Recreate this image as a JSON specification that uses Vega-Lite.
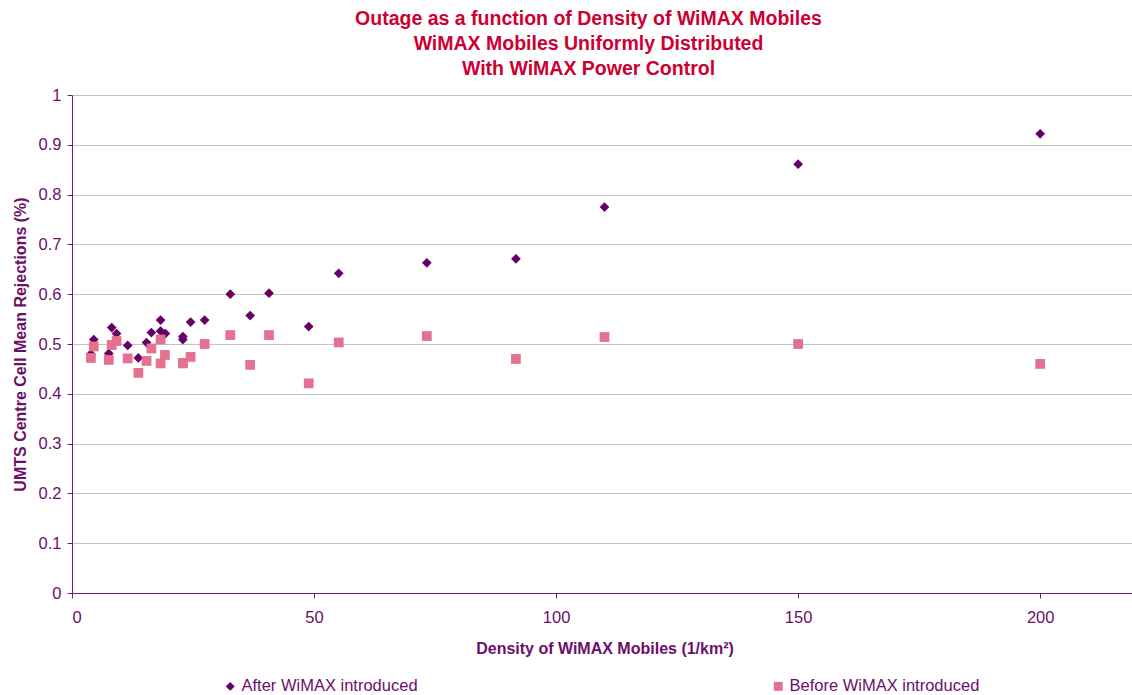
{
  "$schema": "https://vega.github.io/schema/vega-lite/v6.json",
  "autosize": {"type": "none"},
  "padding": {"left": 72, "top": 95, "right": 0, "bottom": 102},
  "width": 1065,
  "height": 498,
  "background": "white",
  "title": {
    "text": ["Outage as a function of Density of WiMAX Mobiles", "WiMAX Mobiles Uniformly Distributed", "With WiMAX Power Control"],
    "font": "Liberation Sans",
    "fontSize": 19.5,
    "fontWeight": "bold",
    "color": "#CC0033",
    "lineHeight": 25,
    "anchor": "middle",
    "frame": "group",
    "dx": -16,
    "offset": 8
  },
  "config": {
    "view": {"stroke": null},
    "font": "Liberation Sans"
  },
  "data": {
    "values": [
      {"density": 3.9, "rejection": 0.480, "series": "After WiMAX introduced"},
      {"density": 4.5, "rejection": 0.509, "series": "After WiMAX introduced"},
      {"density": 7.6, "rejection": 0.481, "series": "After WiMAX introduced"},
      {"density": 8.2, "rejection": 0.533, "series": "After WiMAX introduced"},
      {"density": 9.2, "rejection": 0.521, "series": "After WiMAX introduced"},
      {"density": 11.5, "rejection": 0.497, "series": "After WiMAX introduced"},
      {"density": 13.7, "rejection": 0.472, "series": "After WiMAX introduced"},
      {"density": 15.4, "rejection": 0.503, "series": "After WiMAX introduced"},
      {"density": 16.4, "rejection": 0.523, "series": "After WiMAX introduced"},
      {"density": 18.3, "rejection": 0.548, "series": "After WiMAX introduced"},
      {"density": 18.3, "rejection": 0.526, "series": "After WiMAX introduced"},
      {"density": 19.3, "rejection": 0.521, "series": "After WiMAX introduced"},
      {"density": 22.9, "rejection": 0.515, "series": "After WiMAX introduced"},
      {"density": 22.9, "rejection": 0.509, "series": "After WiMAX introduced"},
      {"density": 24.5, "rejection": 0.544, "series": "After WiMAX introduced"},
      {"density": 27.4, "rejection": 0.548, "series": "After WiMAX introduced"},
      {"density": 32.7, "rejection": 0.600, "series": "After WiMAX introduced"},
      {"density": 36.8, "rejection": 0.557, "series": "After WiMAX introduced"},
      {"density": 40.7, "rejection": 0.602, "series": "After WiMAX introduced"},
      {"density": 48.9, "rejection": 0.535, "series": "After WiMAX introduced"},
      {"density": 55.1, "rejection": 0.642, "series": "After WiMAX introduced"},
      {"density": 73.3, "rejection": 0.663, "series": "After WiMAX introduced"},
      {"density": 91.7, "rejection": 0.671, "series": "After WiMAX introduced"},
      {"density": 110, "rejection": 0.775, "series": "After WiMAX introduced"},
      {"density": 150, "rejection": 0.861, "series": "After WiMAX introduced"},
      {"density": 200, "rejection": 0.922, "series": "After WiMAX introduced"},
      {"density": 3.9, "rejection": 0.472, "series": "Before WiMAX introduced"},
      {"density": 4.5, "rejection": 0.495, "series": "Before WiMAX introduced"},
      {"density": 7.6, "rejection": 0.468, "series": "Before WiMAX introduced"},
      {"density": 8.2, "rejection": 0.498, "series": "Before WiMAX introduced"},
      {"density": 9.2, "rejection": 0.506, "series": "Before WiMAX introduced"},
      {"density": 11.5, "rejection": 0.471, "series": "Before WiMAX introduced"},
      {"density": 13.7, "rejection": 0.442, "series": "Before WiMAX introduced"},
      {"density": 15.4, "rejection": 0.466, "series": "Before WiMAX introduced"},
      {"density": 16.4, "rejection": 0.491, "series": "Before WiMAX introduced"},
      {"density": 18.3, "rejection": 0.509, "series": "Before WiMAX introduced"},
      {"density": 18.3, "rejection": 0.461, "series": "Before WiMAX introduced"},
      {"density": 19.2, "rejection": 0.478, "series": "Before WiMAX introduced"},
      {"density": 22.9, "rejection": 0.461, "series": "Before WiMAX introduced"},
      {"density": 22.9, "rejection": 0.462, "series": "Before WiMAX introduced"},
      {"density": 24.5, "rejection": 0.474, "series": "Before WiMAX introduced"},
      {"density": 27.4, "rejection": 0.500, "series": "Before WiMAX introduced"},
      {"density": 32.7, "rejection": 0.518, "series": "Before WiMAX introduced"},
      {"density": 36.8, "rejection": 0.458, "series": "Before WiMAX introduced"},
      {"density": 40.7, "rejection": 0.518, "series": "Before WiMAX introduced"},
      {"density": 48.9, "rejection": 0.421, "series": "Before WiMAX introduced"},
      {"density": 55.1, "rejection": 0.503, "series": "Before WiMAX introduced"},
      {"density": 73.3, "rejection": 0.516, "series": "Before WiMAX introduced"},
      {"density": 91.7, "rejection": 0.470, "series": "Before WiMAX introduced"},
      {"density": 110, "rejection": 0.514, "series": "Before WiMAX introduced"},
      {"density": 150, "rejection": 0.500, "series": "Before WiMAX introduced"},
      {"density": 200, "rejection": 0.460, "series": "Before WiMAX introduced"}
    ]
  },
  "mark": {"type": "point", "filled": true, "opacity": 1, "size": 95},
  "encoding": {
    "x": {
      "field": "density",
      "type": "quantitative",
      "scale": {"domain": [0, 220], "nice": false},
      "axis": {
        "values": [0, 50, 100, 150, 200],
        "grid": false,
        "domainColor": "#7A1A7A",
        "tickColor": "#7A1A7A",
        "tickSize": 5,
        "labelFontSize": 16.5,
        "labelColor": "#6B0F6B",
        "labelPadding": 11,
        "labelFont": "Liberation Sans",
        "title": "Density of WiMAX Mobiles (1/km²)",
        "titleFont": "Liberation Sans",
        "titleFontSize": 16,
        "titleFontWeight": "bold",
        "titleColor": "#6B0F6B",
        "titlePadding": 15
      }
    },
    "y": {
      "field": "rejection",
      "type": "quantitative",
      "scale": {"domain": [0, 1], "nice": false},
      "axis": {
        "values": [0, 0.1, 0.2, 0.3, 0.4, 0.5, 0.6, 0.7, 0.8, 0.9, 1],
        "format": ".1~f",
        "grid": true,
        "gridColor": "#C4C4C4",
        "gridWidth": 1,
        "domainColor": "#7A1A7A",
        "tickColor": "#7A1A7A",
        "tickSize": 5,
        "labelFontSize": 16.5,
        "labelColor": "#6B0F6B",
        "labelPadding": 6,
        "labelFont": "Liberation Sans",
        "title": "UMTS Centre Cell Mean Rejections (%)",
        "titleFont": "Liberation Sans",
        "titleFontSize": 16,
        "titleFontWeight": "bold",
        "titleColor": "#6B0F6B",
        "titlePadding": 10
      }
    },
    "color": {
      "field": "series",
      "type": "nominal",
      "scale": {
        "domain": ["After WiMAX introduced", "Before WiMAX introduced"],
        "range": ["#660066", "#E3718F"]
      },
      "legend": {
        "orient": "none",
        "direction": "horizontal",
        "legendX": 150,
        "legendY": 583,
        "title": null,
        "columns": 2,
        "columnPadding": 352,
        "labelFontSize": 16.5,
        "labelLimit": 400,
        "labelOffset": 3,
        "labelColor": "#6B0F6B",
        "labelFont": "Liberation Sans",
        "symbolSize": 80,
        "symbolOpacity": 1
      }
    },
    "shape": {
      "field": "series",
      "type": "nominal",
      "scale": {
        "domain": ["After WiMAX introduced", "Before WiMAX introduced"],
        "range": ["diamond", "square"]
      }
    }
  }
}
